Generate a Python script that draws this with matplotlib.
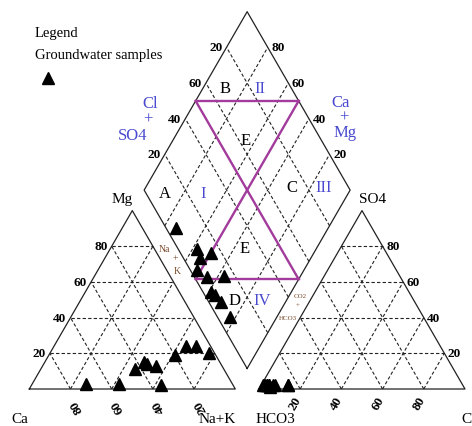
import numpy as np
import matplotlib as mpl

mpl.use("Agg")
import matplotlib.pyplot as plt
from matplotlib.lines import Line2D

# cations, % of meq (one entry per groundwater sample)
CA = [71, 55, 43, 37, 36, 32, 20, 35, 12, 7, 3]
MG = [3, 3, 11, 15, 14, 13, 19, 2, 24, 24, 20]
NAK = [26, 42, 46, 48, 50, 55, 61, 63, 64, 69, 77]

# anions, % of meq
HCO3 = [95, 91, 92, 97, 85, 94, 96, 85, 95, 94, 94]
SO4 = [2, 2, 2, 2, 2, 2, 2, 2, 2, 2, 1]
CL = [3, 7, 6, 1, 13, 4, 2, 13, 3, 4, 5]

TICKS = [0.2, 0.4, 0.6, 0.8]
LEFT_BOTTOM_LABELS = ["80", "60", "40", "20"]
RIGHT_BOTTOM_LABELS = ["20", "40", "60", "80"]
SIDE_LABELS = ["20", "40", "60", "80"]
DIAMOND_LEFT_LABELS = ["20", "40", "60", "20"]

ZONES = ["A", "B", "E", "C", "E", "D"]
ZONE_POS = [(165, 194), (225, 89), (246, 141), (292, 188), (245, 249), (235, 301)]
ROMAN = ["I", "II", "III", "IV"]
ROMAN_POS = [(203, 194), (260, 89), (324, 188), (262, 301)]

S3 = np.sqrt(3) / 2
GAP = 0.115
XR = 1 + GAP
BOT = (1 + GAP / 2, GAP * S3)

SERIF = "Liberation Serif"
BLUE = "#4a4ad0"
PURPLE = "#a23b9c"
BROWN = "#7a4a2a"
GRID = dict(color="#222222", lw=0.8, ls=(0, (3, 2)))
EDGE = dict(color="#222222", lw=0.9)


def left_xy(ca, mg, nak):
    ca, mg, nak = np.asarray(ca, float), np.asarray(mg, float), np.asarray(nak, float)
    t = ca + mg + nak
    return nak / t + 0.5 * mg / t, S3 * mg / t


def right_xy(hco3, so4, cl):
    hco3, so4, cl = np.asarray(hco3, float), np.asarray(so4, float), np.asarray(cl, float)
    t = hco3 + so4 + cl
    return XR + cl / t + 0.5 * so4 / t, S3 * so4 / t


def dia_xy(cm, cs):
    cm, cs = np.asarray(cm, float), np.asarray(cs, float)
    return BOT[0] + 0.5 * (cs - cm), BOT[1] + S3 * (cm + cs)


def seg(ax, p, q, **kw):
    ax.plot([p[0], q[0]], [p[1], q[1]], **kw)


def px(x, y):
    # reference pixel -> axes data units
    return (x - 29.3) / 206, (390 - y) / 206


fig = plt.figure(figsize=(4.72, 4.27), dpi=100)
ax = fig.add_axes([0, 0, 1, 1])
ax.set_xlim(-29.3 / 206, (472 - 29.3) / 206)
ax.set_ylim((390 - 427) / 206, 390 / 206)
ax.axis("off")

# grids
for f in TICKS:
    seg(ax, left_xy(1 - f, f, 0), left_xy(0, f, 1 - f), **GRID)
    seg(ax, left_xy(1 - f, 0, f), left_xy(0, 1 - f, f), **GRID)
    seg(ax, left_xy(f, 0, 1 - f), left_xy(f, 1 - f, 0), **GRID)
    seg(ax, right_xy(1 - f, f, 0), right_xy(0, f, 1 - f), **GRID)
    seg(ax, right_xy(1 - f, 0, f), right_xy(0, 1 - f, f), **GRID)
    seg(ax, right_xy(f, 0, 1 - f), right_xy(f, 1 - f, 0), **GRID)
    seg(ax, dia_xy(f, 0), dia_xy(f, 1), **GRID)
    seg(ax, dia_xy(0, f), dia_xy(1, f), **GRID)

# outlines
tri_l = [left_xy(1, 0, 0), left_xy(0, 0, 1), left_xy(0, 1, 0), left_xy(1, 0, 0)]
tri_r = [right_xy(1, 0, 0), right_xy(0, 0, 1), right_xy(0, 1, 0), right_xy(1, 0, 0)]
dia = [dia_xy(0, 0), dia_xy(0, 1), dia_xy(1, 1), dia_xy(1, 0), dia_xy(0, 0)]
for shape in (tri_l, tri_r, dia):
    xs, ys = zip(*shape)
    ax.plot(xs, ys, **EDGE)

# hourglass boundaries
hg = dict(color=PURPLE, lw=1.7)
seg(ax, dia_xy(1, 0.5), dia_xy(0.5, 1), **hg)
seg(ax, dia_xy(0.5, 0), dia_xy(0, 0.5), **hg)
seg(ax, dia_xy(1, 0.5), dia_xy(0, 0.5), **hg)
seg(ax, dia_xy(0.5, 1), dia_xy(0.5, 0), **hg)

# samples
cm = np.array(CA) + np.array(MG)
cs = np.array(CL) + np.array(SO4)
ctot = cm + np.array(NAK)
atot = cs + np.array(HCO3)
mk = dict(marker="^", color="black", ms=8, ls="none")
ax.plot(*left_xy(CA, MG, NAK), **mk)
ax.plot(*right_xy(HCO3, SO4, CL), **mk)
ax.plot(*dia_xy(cm / ctot, cs / atot), **mk)

# tick labels
num = dict(fontsize=9.5, fontweight="bold", family=SERIF, textcoords="offset points")
for f, lab in zip(TICKS, SIDE_LABELS):
    ax.annotate(lab, left_xy(1 - f, f, 0), xytext=(-3, 0), ha="right", va="center", **num)
    ax.annotate(lab, right_xy(0, f, 1 - f), xytext=(2.5, 0), ha="left", va="center", **num)
    ax.annotate(lab, dia_xy(f, 1), xytext=(2.5, 0), ha="left", va="center", **num)
for f, lab in zip(TICKS, DIAMOND_LEFT_LABELS):
    ax.annotate(lab, dia_xy(1, f), xytext=(-3, 0), ha="right", va="center", **num)
for f, lab in zip(TICKS, LEFT_BOTTOM_LABELS):
    ax.annotate(lab, (f, 0), xytext=(4.5, -12), ha="center", va="center", rotation=120, **num)
for f, lab in zip(TICKS, RIGHT_BOTTOM_LABELS):
    ax.annotate(lab, (XR + f, 0), xytext=(-3.5, -10), ha="center", va="center", rotation=60, **num)

# corner / axis names
corner = dict(fontsize=11, family=SERIF, ha="center", va="center")
ax.text(*px(122, 200), "Mg", **corner)
ax.text(*px(20, 420), "Ca", **corner)
ax.text(*px(217, 420), "Na+K", **corner)
ax.text(*px(275, 420), "HCO3", **corner)
ax.text(*px(373, 200), "SO4", **corner)
ax.text(*px(461, 420), "Cl", fontsize=11, family=SERIF, ha="left", va="center")

blue = dict(fontsize=12, family=SERIF, color=BLUE, ha="center", va="center")
ax.text(*px(150, 104), "Cl", **blue)
ax.text(*px(148, 120), "+", **blue)
ax.text(*px(133, 136), "SO4", **blue)
ax.text(*px(341, 103), "Ca", **blue)
ax.text(*px(344, 118), "+", **blue)
ax.text(*px(345, 133), "Mg", **blue)

zone = dict(fontsize=12, family=SERIF, ha="center", va="center")
for (x, y), lab in zip(ZONE_POS, ZONES):
    ax.text(*px(x, y), lab, **zone)
for (x, y), lab in zip(ROMAN_POS, ROMAN):
    ax.text(*px(x, y), lab, color=BLUE, **zone)

small = dict(family=SERIF, color=BROWN, ha="center", va="center")
ax.text(*px(164, 250), "Na", fontsize=7, **small)
ax.text(*px(175, 259), "+", fontsize=7, **small)
ax.text(*px(177, 271), "K", fontsize=7, **small)
ax.text(*px(300, 297), "CO2", fontsize=5, **small)
ax.text(*px(298, 306), "+", fontsize=5, **small)
ax.text(*px(288, 319), "HCO3", fontsize=5, **small)

# legend block
fig.text(35 / 472, 1 - 33 / 427, "Legend", fontsize=10.5, family=SERIF, va="center")
fig.text(35 / 472, 1 - 55 / 427, "Groundwater samples", fontsize=10.5, family=SERIF, va="center")
fig.add_artist(Line2D([48 / 472], [1 - 79 / 427], transform=fig.transFigure, **mk))

fig.savefig("out.png", dpi=100)
